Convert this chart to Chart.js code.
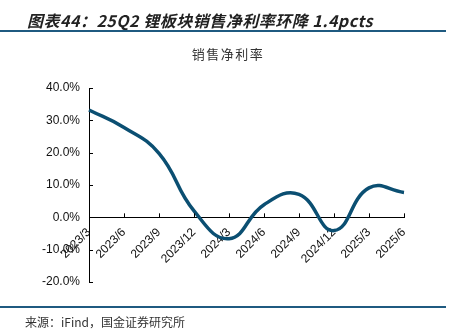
<!DOCTYPE html>
<html>
<head>
<meta charset="utf-8">
<script src="https://cdn.jsdelivr.net/npm/chart.js@4"></script>
<style>
    body { margin: 0; background: #fff; }
    #wrap { position: relative; width: 456px; height: 331px; overflow: hidden; }
    #chart { position: absolute; left: 0; top: 0; }
    .heading { position: absolute; left: 27px; top: 8px; font: italic bold 16px "Noto Sans CJK SC", sans-serif; color: #222; white-space: nowrap; letter-spacing: 0.5px; }
    .rule { position: absolute; left: 0; width: 446px; height: 2px; background: #1f5a80; }
    .ctitle { position: absolute; left: 0; width: 456px; top: 44px; text-align: center; font: 13px "Noto Sans CJK SC", sans-serif; color: #333; letter-spacing: 1.5px; }
    .source { position: absolute; left: 25px; top: 313px; font: 12px "Noto Sans CJK SC", sans-serif; color: #333; white-space: nowrap; }
</style>
</head>
<body>
<div id="wrap">
    <canvas id="chart" width="456" height="331"></canvas>
    <div class="heading">图表44：25Q2 锂板块销售净利率环降 1.4pcts</div>
    <div class="rule" style="top:30px"></div>
    <div class="ctitle">销售净利率</div>
    <div class="rule" style="top:306px"></div>
    <div class="source">来源：iFind，国金证券研究所</div>
</div>
<script>
const quarters = ['2023/3', '2023/6', '2023/9', '2023/12', '2024/3', '2024/6', '2024/9', '2024/12', '2025/3', '2025/6'];
const netMargin = [33.2, 27.8, 19.8, 2.0, -6.6, 3.9, 7.1, -4.1, 9.1, 7.7];
const yTicks = [-20, -10, 0, 10, 20, 30, 40];

// inward tick marks on both axes
const tickMarks = {
    id: 'tickMarks',
    afterDatasetsDraw(chart) {
        const ctx = chart.ctx;
        const x = chart.scales.x, y = chart.scales.y;
        const x0 = y.left + y.width;
        const y0 = y.getPixelForValue(0);
        ctx.save();
        ctx.strokeStyle = '#000';
        ctx.lineWidth = 1;
        ctx.beginPath();
        yTicks.forEach(v => {
            const py = Math.round(y.getPixelForValue(v)) + 0.5;
            ctx.moveTo(x0, py);
            ctx.lineTo(x0 + 4, py);
        });
        quarters.forEach((q, i) => {
            if (i === 0) return;
            const px = Math.round(x.getPixelForValue(i)) + 0.5;
            ctx.moveTo(px, y0);
            ctx.lineTo(px, y0 - 4);
        });
        ctx.stroke();
        ctx.restore();
    }
};

new Chart(document.getElementById('chart'), {
    type: 'line',
    data: {
        labels: quarters,
        datasets: [{
            data: netMargin,
            borderColor: '#0b4f72',
            borderWidth: 3.5,
            pointRadius: 0,
            tension: 0.45,
            fill: false
        }]
    },
    options: {
        responsive: false,
        animation: false,
        layout: { padding: { top: 88, bottom: 49, right: 52, left: 0 } },
        plugins: {
            legend: { display: false },
            tooltip: { enabled: false }
        },
        scales: {
            x: {
                position: { y: 0 },
                offset: false,
                grid: { display: false, drawTicks: false },
                border: { display: true, color: '#000', width: 1 },
                ticks: {
                    color: '#111',
                    font: { family: '"Liberation Sans"', size: 12 },
                    minRotation: 45,
                    maxRotation: 45,
                    padding: 8,
                    labelOffset: 0,
                    autoSkip: false
                }
            },
            y: {
                min: -20,
                max: 40,
                grid: { display: false, drawTicks: false },
                border: { display: true, color: '#000', width: 1 },
                afterFit(scale) { scale.width = 89; },
                afterBuildTicks(scale) { scale.ticks = yTicks.map(v => ({ value: v })); },
                ticks: {
                    color: '#111',
                    padding: 9,
                    font: { family: '"Liberation Sans"', size: 12 },
                    callback: v => v.toFixed(1) + '%'
                }
            }
        }
    },
    plugins: [tickMarks]
});
</script>
</body>
</html>
